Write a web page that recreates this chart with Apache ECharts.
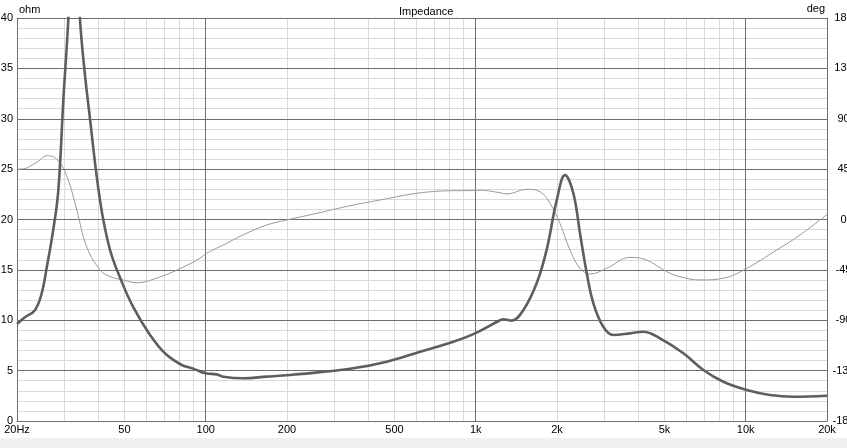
<!DOCTYPE html>
<html>
<head>
<meta charset="utf-8">
<script src="https://cdn.jsdelivr.net/npm/echarts@6/dist/echarts.min.js"></script>
<style>
html,body{margin:0;padding:0;background:#fff;}
#chart{width:847px;height:448px;}
</style>
</head>
<body>
<div id="chart"></div>
<script>
// Impedance magnitude (ohm) vs frequency (Hz)
var impFreq = [20, 21.4, 23.3, 24.7, 25.8, 27.25, 28.45, 29.7, 31.0, 31.6, 32.4, 33.4, 34.2, 35.5, 36.9, 40.6, 44.2, 48.9, 53.9, 62.2, 70.6, 81.5, 89.9, 100, 109.8, 116.1, 137.8, 168.3, 205, 265, 352, 468, 622, 826, 994, 1230, 1265, 1359, 1500, 1683, 1831, 1995, 2141, 2299, 2434, 2577, 2726, 2967, 3233, 3727, 4175, 4815, 5876, 6968, 8260, 10090, 12300, 15000, 20000];
var impOhm  = [9.63, 10.3, 11.0, 12.7, 15.3, 19.0, 22.9, 31.9, 40, 46, 52, 47, 40, 35, 31, 21.9, 17.0, 13.8, 11.3, 8.54, 6.72, 5.56, 5.2, 4.73, 4.63, 4.4, 4.24, 4.4, 4.57, 4.85, 5.23, 5.89, 6.88, 7.87, 8.7, 10.0, 10.1, 9.96, 11.0, 13.7, 17.0, 21.9, 24.4, 22.6, 18.6, 14.7, 11.7, 9.36, 8.54, 8.7, 8.86, 8.2, 6.72, 5.06, 3.9, 3.08, 2.58, 2.41, 2.51];

// Phase (deg) vs frequency (Hz)
var phaseFreq = [20, 21.4, 22.3, 24.0, 25.8, 28.05, 30.6, 33.3, 36.2, 40.6, 44.2, 49.5, 55.5, 67.7, 82.6, 95.2, 100.8, 109.8, 119.6, 126.5, 145.9, 168.3, 199.5, 258, 342, 455, 604, 803, 980, 1038, 1230, 1303, 1545, 1730, 1884, 2051, 2235, 2434, 2650, 3055, 3727, 4296, 5094, 5710, 6773, 8260, 9937, 13020, 15890, 20000];
var phaseDeg  = [45, 45.5, 47.5, 52, 57, 54, 38.5, 8.5, -24, -45, -51, -54, -56.5, -51.3, -42.5, -34.5, -30.2, -25.6, -21.3, -18.1, -10.9, -4.9, -0.4, 5.5, 12.3, 18, 23.4, 25.7, 25.9, 26.2, 23.9, 22.8, 27, 24.9, 14.4, -3.5, -27.3, -43.6, -48.7, -43.6, -33.8, -36.2, -46.6, -51.1, -54, -52.5, -44.5, -27.3, -13.8, 4.5];

// X axis tick labels
var xLabelFreqs = [20, 50, 100, 200, 500, 1000, 2000, 5000, 10000, 20000];
var xLabelTexts = ['20Hz', '50', '100', '200', '500', '1k', '2k', '5k', '10k', '20k'];
// Grid lines
var minorFreqs = [30, 40, 60, 70, 80, 90, 300, 400, 600, 700, 800, 900, 3000, 4000, 6000, 7000, 8000, 9000];
var majorFreqs = [100, 1000, 10000];

var FONT = '"Liberation Sans", Arial, sans-serif';
var DARK = '#6f6f6f';
var LIGHT = '#dadada';

function pairs(xs, ys) { return xs.map(function (x, i) { return [x, ys[i]]; }); }

var minorLineData = minorFreqs.map(function (f) { return { xAxis: f }; });
xLabelFreqs.forEach(function (f, i) {
  minorLineData.push({
    xAxis: f,
    label: {
      show: true, position: 'start', distance: 3,
      formatter: xLabelTexts[i], color: '#000', fontSize: 11, fontFamily: FONT
    }
  });
});
var majorLineData = majorFreqs.map(function (f) { return { xAxis: f }; });

var chart = echarts.init(document.getElementById('chart'), null, { renderer: 'canvas' });
chart.setOption({
  animation: false,
  backgroundColor: '#ffffff',
  title: {
    text: 'Impedance', left: 394, top: 1,
    textStyle: { fontSize: 11, fontWeight: 'normal', color: '#000', fontFamily: FONT }
  },
  graphic: [
    { type: 'rect', left: 0, top: 438, shape: { width: 847, height: 10 }, style: { fill: '#f0f0f0' }, z: -10, silent: true },
    { type: 'text', left: 19, top: 4, style: { text: 'ohm', fill: '#000', font: '11px ' + FONT } },
    { type: 'text', right: 22, top: 3, style: { text: 'deg', fill: '#000', font: '11px ' + FONT } }
  ],
  grid: { left: 17, right: 20, top: 18, bottom: 27, containLabel: false, outerBoundsMode: 'none' },
  xAxis: {
    type: 'log', logBase: 10, min: 20, max: 20000, z: 1,
    axisLine: { show: true, lineStyle: { color: DARK, width: 1 } },
    axisTick: { show: false },
    axisLabel: { show: false },
    splitLine: { show: false },
    minorSplitLine: { show: false }
  },
  yAxis: [
    {
      type: 'value', min: 0, max: 40, interval: 1, z: 1, position: 'left',
      axisLine: { show: true, lineStyle: { color: DARK, width: 1 } },
      axisTick: { show: false },
      axisLabel: {
        margin: 4, color: '#000', fontSize: 11, fontFamily: FONT,
        formatter: function (v) { return v % 5 === 0 ? String(v) : ''; }
      },
      splitLine: { show: true, lineStyle: { color: LIGHT, width: 1 } }
    },
    {
      type: 'value', min: -180, max: 180, interval: 45, z: 1, position: 'right',
      axisLine: { show: true, lineStyle: { color: DARK, width: 1 } },
      axisTick: { show: false },
      axisLabel: { margin: 16.5, align: 'center', color: '#000', fontSize: 11, fontFamily: FONT },
      splitLine: { show: true, lineStyle: { color: DARK, width: 1 } }
    }
  ],
  series: [
    {
      name: 'Phase', type: 'line', yAxisIndex: 1, z: 3,
      data: pairs(phaseFreq, phaseDeg),
      showSymbol: false, symbol: 'none', smooth: 0.4,
      lineStyle: { color: '#9a9a9a', width: 1 },
      markLine: {
        silent: true, z: 1, symbol: 'none', animation: false,
        lineStyle: { color: DARK, width: 1, type: 'solid' },
        label: { show: false },
        data: majorLineData
      }
    },
    {
      name: 'Impedance', type: 'line', yAxisIndex: 0, z: 4,
      data: pairs(impFreq, impOhm),
      showSymbol: false, symbol: 'none', smooth: 0.4,
      lineStyle: { color: '#5e5e5e', width: 2.6 },
      markLine: {
        silent: true, z: 0, symbol: 'none', animation: false,
        lineStyle: { color: LIGHT, width: 1, type: 'solid' },
        label: { show: false },
        data: minorLineData
      }
    }
  ]
});
</script>
</body>
</html>
